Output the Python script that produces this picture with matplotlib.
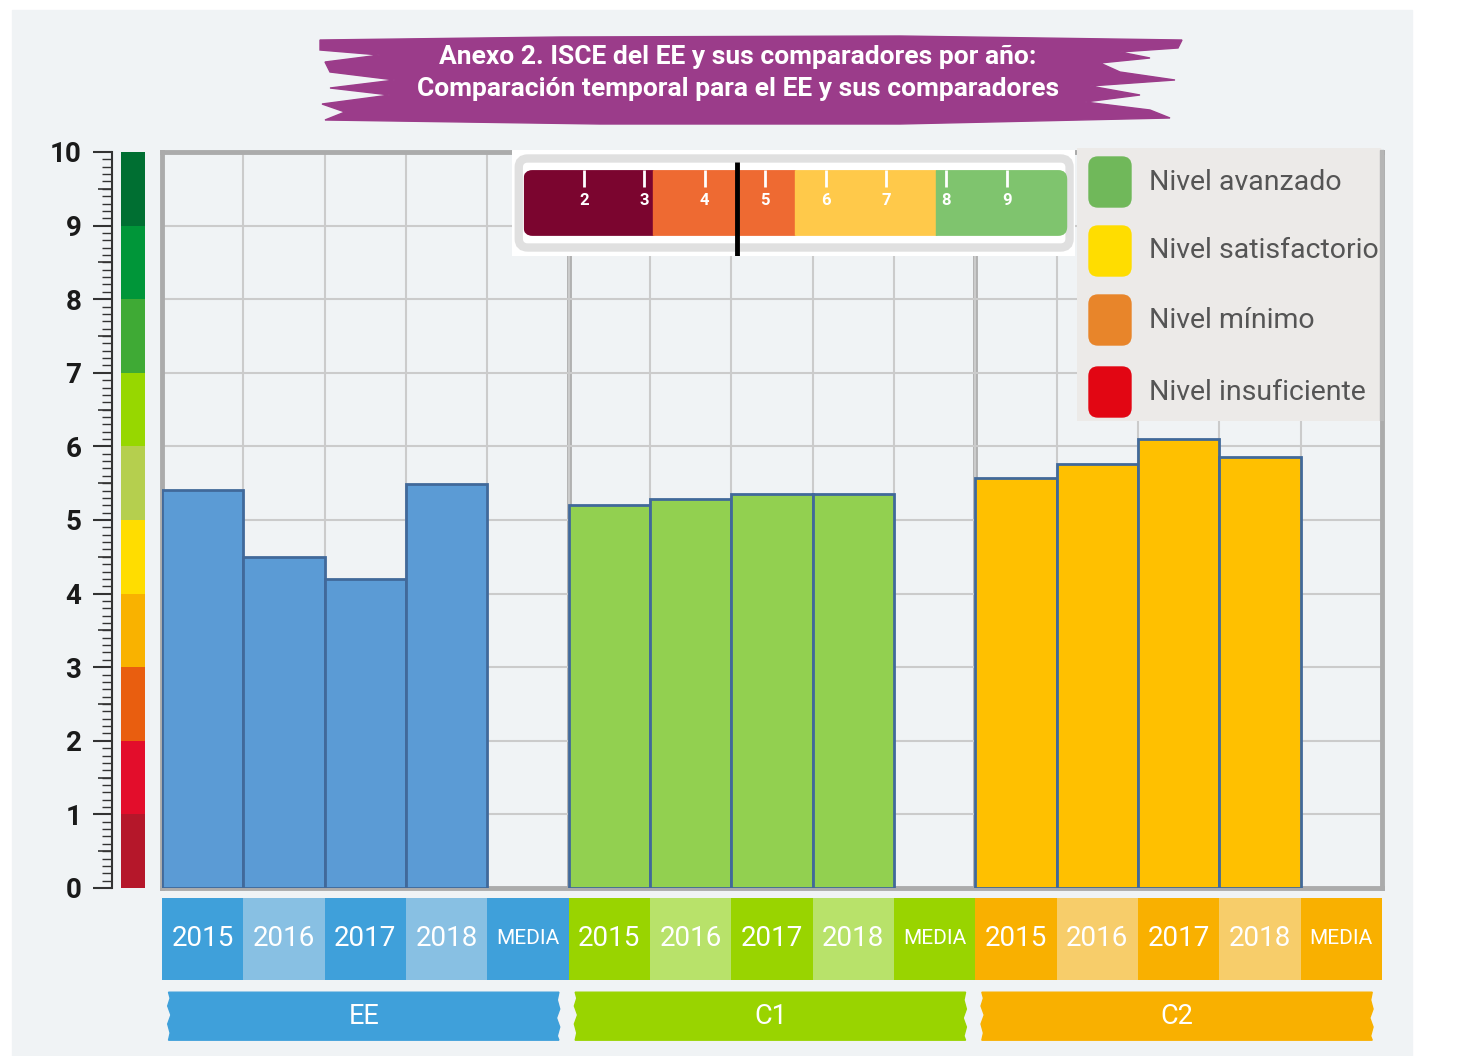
import matplotlib
matplotlib.use("Agg")
import matplotlib.pyplot as plt
from matplotlib.patches import Rectangle, FancyBboxPatch, Polygon

plt.rcParams['font.family'] = ['Roboto', 'DejaVu Sans']

# ---- data ----
groups = ['EE', 'C1', 'C2']
cols = ['2015', '2016', '2017', '2018', 'MEDIA']
ee_vals = [5.41, 4.50, 4.20, 5.49]
c1_vals = [5.20, 5.28, 5.35, 5.35]
c2_vals = [5.57, 5.76, 6.10, 5.86]
bar_colors = ['#5B9BD5', '#92D050', '#FFC000']
strip_dark = ['#3FA0DA', '#99D400', '#F9B000']
strip_light = ['#88C0E3', '#B8E26A', '#F7CD6A']

scale_lo = [0, 1, 2, 3, 4, 5, 6, 7, 8, 9]
scale_colors = ['#B5172A', '#E30D2B', '#E95E0F', '#F9B200', '#FFDD00',
                '#B5CF4E', '#97D700', '#3FAA35', '#009639', '#006F32']

gauge_bounds = [1.0, 3.15, 5.5, 7.83, 10.0]
gauge_colors = ['#7B052F', '#EE6A32', '#FFC94A', '#7FC46E']
gauge_marker = 4.53

legend_labels = ['Nivel avanzado', 'Nivel satisfactorio', 'Nivel mínimo', 'Nivel insuficiente']
legend_colors = ['#70B85A', '#FFDD00', '#E8852A', '#E20613']

title = ('Anexo 2. ISCE del EE y sus comparadores por año:\n'
         'Comparación temporal para el EE y sus comparadores')

W, H = 1462, 1056


def px(x0, y0, x1, y1):
    return [x0 / W, 1 - y1 / H, (x1 - x0) / W, (y1 - y0) / H]


fig = plt.figure(figsize=(W / 100, H / 100), dpi=100)
fig.patch.set_facecolor('white')

# background + title banner (pixel coords)
bg = fig.add_axes([0, 0, 1, 1], zorder=-10)
bg.set_xlim(0, W)
bg.set_ylim(H, 0)
bg.axis('off')
bg.add_patch(Rectangle((12, 10), 1400, 1046, color='#F0F3F5'))
title_poly = [(320, 40), (560, 37), (900, 36), (1182, 40), (1178, 48), (1120, 52), (1150, 58),
              (1100, 63), (1120, 72), (1175, 80), (1090, 86), (1140, 95), (1085, 102),
              (1150, 110), (1170, 118), (900, 124), (600, 124), (325, 120), (345, 112),
              (322, 104), (390, 95), (330, 88), (395, 80), (330, 72), (325, 62), (380, 55),
              (320, 50)]
bg.add_patch(Polygon(title_poly, closed=True, color='#9B3C8A'))
bg.text(738, 73, title, ha='center', va='center', color='white', fontsize=19,
        fontweight='bold', linespacing=1.45)

# ---- main chart ----
ax = fig.add_axes(px(162, 152, 1382, 888))
ax.set_facecolor('none')
ax.set_xlim(0, 15)
ax.set_ylim(0, 10)
ax.set_xticks(range(16))
ax.set_yticks(range(11))
ax.grid(True, color='#CBCBCB', lw=1.5, zorder=0)
ax.tick_params(length=0, labelbottom=False, labelleft=False)
for s in ax.spines.values():
    s.set_color('#ABABAB')
    s.set_linewidth(3.5)
for g in range(1, len(groups)):
    ax.axvline(g * len(cols), color='#B0B0B0', lw=3.5, zorder=1)

for g, vals in enumerate([ee_vals, c1_vals, c2_vals]):
    xs = [g * len(cols) + i for i in range(len(vals))]
    ax.bar(xs, vals, width=1, align='edge', color=bar_colors[g],
           edgecolor='#41699A', lw=2, zorder=3)

# ---- category strip ----
cx = fig.add_axes(px(162, 898, 1382, 980))
cx.set_xlim(0, 15)
cx.set_ylim(0, 1)
cx.axis('off')
for g in range(len(groups)):
    for i, c in enumerate(cols):
        x = g * len(cols) + i
        col = strip_dark[g] if i % 2 == 0 else strip_light[g]
        cx.bar(x, 1, width=1, align='edge', color=col)
        fs = 15 if c == 'MEDIA' else 20
        cx.text(x + 0.5, 0.5, c, ha='center', va='center', color='white', fontsize=fs)

# ---- group labels ----
gx = fig.add_axes(px(162, 985, 1382, 1045))
gx.set_xlim(0, 15)
gx.set_ylim(0, 1)
gx.axis('off')
for g, name in enumerate(groups):
    x0 = g * len(cols) + 0.08
    x1 = g * len(cols) + 4.88
    pts = [(x0, 0.88), (x1, 0.88), (x1 - 0.02, 0.75), (x1 + 0.01, 0.6), (x1 - 0.03, 0.45),
           (x1 + 0.01, 0.3), (x1 - 0.02, 0.15), (x1, 0.08), (x0, 0.08), (x0 + 0.02, 0.2),
           (x0 - 0.01, 0.35), (x0 + 0.03, 0.5), (x0 - 0.01, 0.65), (x0 + 0.02, 0.78)]
    gx.add_patch(Polygon(pts, closed=True, color=strip_dark[g]))
    gx.text((x0 + x1) / 2, 0.48, name, ha='center', va='center', color='white', fontsize=19.5)

# ---- left colour scale ----
sx = fig.add_axes(px(112, 152, 145, 888))
sx.set_xlim(0, 33)
sx.set_ylim(0, 10)
sx.set_facecolor('none')
sx.bar([9] * len(scale_lo), [1] * len(scale_lo), bottom=scale_lo, width=24,
       align='edge', color=scale_colors)
for k in ['top', 'right', 'bottom']:
    sx.spines[k].set_visible(False)
sx.spines['left'].set_color('#333333')
sx.spines['left'].set_linewidth(1.5)
sx.set_xticks([])
sx.set_yticks(range(11))
sx.set_yticks([i / 10 for i in range(101)], minor=True)
sx.tick_params(axis='y', which='major', length=14, width=1.5, color='#333333',
               labelsize=20, pad=8, labelcolor='#1A1A1A')
sx.tick_params(axis='y', which='minor', length=7, width=1.0, color='#333333')
sx.hlines([i + 0.5 for i in range(10)], -14, 0, color='#333333', lw=1.2, clip_on=False)
for t in sx.get_yticklabels():
    t.set_fontweight('bold')

# ---- gauge inset ----
gz = fig.add_axes(px(512, 150, 1075, 256))
gz.set_xlim(0.808, 10.13)
gz.set_ylim(0, 1)
gz.axis('off')
gz.add_patch(Rectangle((0, 0), 1, 1, transform=gz.transAxes, color='white', zorder=0))
gz.add_patch(FancyBboxPatch((0.92, 0.08), 9.12, 0.84, boxstyle='round,pad=0,rounding_size=0.15',
                            mutation_aspect=0.55, facecolor='white', edgecolor='#E0E0E0',
                            lw=6, zorder=1))
clip = FancyBboxPatch((gauge_bounds[0], 0.19), gauge_bounds[-1] - gauge_bounds[0], 0.62,
                      boxstyle='round,pad=0,rounding_size=0.15', mutation_aspect=0.55,
                      facecolor='none', edgecolor='none')
gz.add_patch(clip)
for lo, hi, c in zip(gauge_bounds[:-1], gauge_bounds[1:], gauge_colors):
    r = Rectangle((lo, 0.19), hi - lo, 0.62, color=c, zorder=2)
    gz.add_patch(r)
    r.set_clip_path(clip)
for i in range(3, 20):
    v = i / 2
    major = (i % 2 == 0)
    gz.vlines(v, 0.81 if not major else 0.65, 0.81, color='white', lw=2 if major else 1.5, zorder=3)
    if major:
        gz.text(v, 0.52, str(int(v)), ha='center', va='center', color='white',
                fontsize=12, fontweight='bold', family=['Liberation Sans Narrow', 'Roboto'],
                zorder=3)
gz.vlines(gauge_marker, 0.0, 0.89, color='black', lw=3.5, zorder=4)

# ---- legend ----
lx = fig.add_axes(px(1077, 148, 1384, 421))
lx.set_xlim(0, 307)
lx.set_ylim(273, 0)
lx.axis('off')
lx.add_patch(Rectangle((0, 0), 303, 273, color='#ECEAE8'))
lx.add_patch(Rectangle((303, 2), 4, 271, color='#B5B5B5'))
for k, (lab, c) in enumerate(zip(legend_labels, legend_colors)):
    yc = [34, 103, 172, 244][k]
    lx.add_patch(FancyBboxPatch((12, yc - 25), 42, 50, boxstyle='round,pad=0,rounding_size=9',
                                color=c))
    lx.text(72, yc, lab, ha='left', va='center', color='#555555', fontsize=20.5)

fig.savefig('out.png', dpi=100)
